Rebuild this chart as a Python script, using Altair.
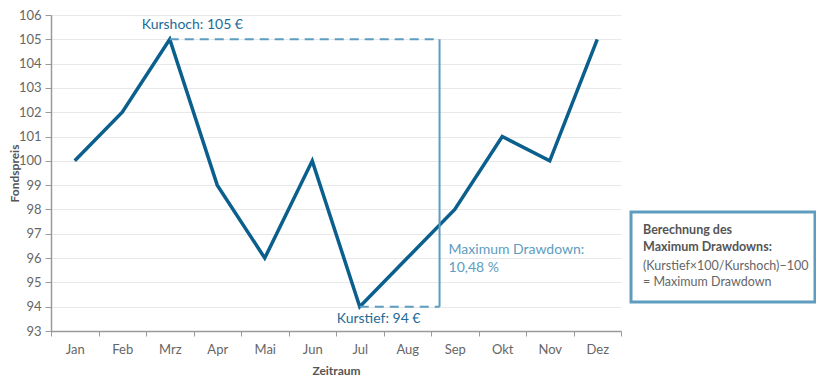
import altair as alt
import pandas as pd

months = ["Jan", "Feb", "Mrz", "Apr", "Mai", "Jun", "Jul", "Aug", "Sep", "Okt", "Nov", "Dez"]
prices = [100, 102, 105, 99, 96, 100, 94, 96, 98, 101, 100, 105]
y_ticks = list(range(93, 107))

high_month, high_value = "Mrz", 105
low_month, low_value = "Jul", 94
dd_month = "Sep"

box_lines = ["Berechnung des", "Maximum Drawdowns:", "(Kurstief×100/Kurshoch)−100", "= Maximum Drawdown"]

FONT = "Lato"
LINE = "#0b5f8d"
DARK_TXT = "#1d6b96"
LIGHT = "#5d9dc0"

df = pd.DataFrame({"Monat": months, "Fondspreis": prices})

xscale = alt.Scale(type="band", domain=months, paddingInner=0, paddingOuter=0)
yscale = alt.Scale(domain=[93, 106], nice=False, zero=False)

x_axis = alt.Axis(title="Zeitraum", tickBand="extent", labelAngle=0, labelPadding=7,
                  titlePadding=9, tickSize=5, grid=False)
y_axis = alt.Axis(title="Fondspreis", values=y_ticks, tickSize=6, labelPadding=4,
                  grid=True, labelOverlap=False, titleX=-30, titleY=158,
                  titleBaseline="bottom", titleAngle=270)

line = alt.Chart(df).mark_line(color=LINE, strokeWidth=3.5).encode(
    x=alt.X("Monat:O", sort=months, scale=xscale, axis=x_axis, bandPosition=0.5),
    y=alt.Y("Fondspreis:Q", scale=yscale, axis=y_axis),
)

hrules_df = pd.DataFrame({
    "Monat": [high_month, low_month],
    "Monat2": [dd_month, dd_month],
    "Fondspreis": [high_value, low_value],
})
hrules = alt.Chart(hrules_df).mark_rule(color=LIGHT, strokeWidth=2, strokeDash=[9, 6]).encode(
    x=alt.X("Monat:O", sort=months, scale=xscale, axis=x_axis, bandPosition=0.5),
    x2=alt.X2("Monat2", bandPosition=0.18),
    y=alt.Y("Fondspreis:Q", scale=yscale, axis=y_axis),
)

vrule_df = pd.DataFrame({"Monat": [dd_month], "Fondspreis": [high_value], "Fondspreis2": [low_value]})
vrule = alt.Chart(vrule_df).mark_rule(color=LIGHT, strokeWidth=2).encode(
    x=alt.X("Monat:O", sort=months, scale=xscale, axis=x_axis, bandPosition=0.18),
    y=alt.Y("Fondspreis:Q", scale=yscale, axis=y_axis),
    y2="Fondspreis2",
)

hi_df = pd.DataFrame({"Monat": [high_month], "Fondspreis": [105.6], "label": ["Kurshoch: 105 €"]})
hi_text = alt.Chart(hi_df).mark_text(font=FONT, fontSize=14, color=DARK_TXT, align="left",
                                     baseline="middle", dx=-28).encode(
    x=alt.X("Monat:O", sort=months, scale=xscale, axis=x_axis, bandPosition=0.5),
    y=alt.Y("Fondspreis:Q", scale=yscale, axis=y_axis),
    text="label:N",
)

lo_df = pd.DataFrame({"Monat": [low_month], "Fondspreis": [93.5], "label": ["Kurstief: 94 €"]})
lo_text = alt.Chart(lo_df).mark_text(font=FONT, fontSize=14, color=DARK_TXT, align="left",
                                     baseline="middle", dx=-23).encode(
    x=alt.X("Monat:O", sort=months, scale=xscale, axis=x_axis, bandPosition=0.5),
    y=alt.Y("Fondspreis:Q", scale=yscale, axis=y_axis),
    text="label:N",
)

dd_df = pd.DataFrame({
    "Monat": [dd_month, dd_month],
    "Fondspreis": [96.35, 95.6],
    "label": ["Maximum Drawdown:", "10,48 %"],
})
dd_text = alt.Chart(dd_df).mark_text(font=FONT, fontSize=14, color=LIGHT, align="left",
                                     baseline="middle", dx=9).encode(
    x=alt.X("Monat:O", sort=months, scale=xscale, axis=x_axis, bandPosition=0.18),
    y=alt.Y("Fondspreis:Q", scale=yscale, axis=y_axis),
    text="label:N",
)

one = pd.DataFrame({"k": [0]})
box = alt.Chart(one).mark_rect(fill="white", stroke="#5f9dbf", strokeWidth=3).encode(
    x=alt.value(580), x2=alt.value(764), y=alt.value(197), y2=alt.value(287),
)

box_texts = []
for i, (txt, yy) in enumerate(zip(box_lines, [215, 232, 251, 267])):
    box_texts.append(
        alt.Chart(one).mark_text(
            text=txt, font=FONT, fontSize=12.5, align="left", baseline="middle",
            fontWeight="bold" if i < 2 else "normal",
            color="#555555" if i < 2 else "#666666",
        ).encode(x=alt.value(592), y=alt.value(yy))
    )

chart = alt.layer(line, hrules, vrule, hi_text, lo_text, dd_text, box, *box_texts).properties(
    width=570, height=316,
    autosize=alt.AutoSizeParams(type="none"),
    padding={"left": 43, "top": 7, "right": 195, "bottom": 49},
).configure_view(stroke=None).configure_axis(
    labelFont=FONT, titleFont=FONT, labelFontSize=13, titleFontSize=12,
    labelColor="#666666", titleColor="#555555", titleFontWeight="bold",
    domainColor="#9a9a9a", tickColor="#9a9a9a", gridColor="#e8e8e8", domainWidth=1.5,
    labelOverlap=False,
)

chart.save("out.html", embed_options={"renderer": "svg", "actions": False})
